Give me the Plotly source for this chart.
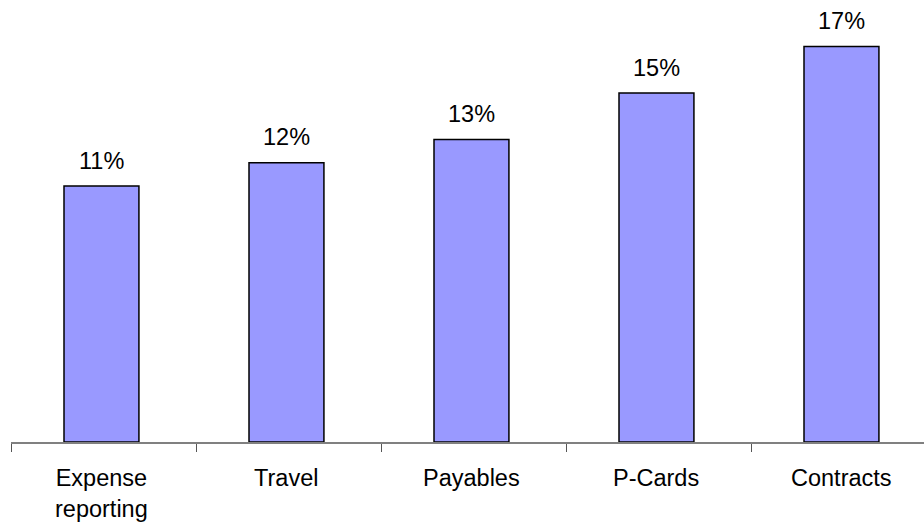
import plotly.graph_objects as go

categories = ["Expense<br>reporting", "Travel", "Payables", "P-Cards", "Contracts"]
values = [11, 12, 13, 15, 17]
value_labels = ["11%", "12%", "13%", "15%", "17%"]

FONT = "Liberation Sans, Arial, sans-serif"
FONT_SIZE = 23.5
BAR_WIDTH = 0.405
positions = list(range(len(categories)))

fig = go.Figure(
    go.Bar(
        x=positions,
        y=values,
        width=BAR_WIDTH,
        offset=-BAR_WIDTH / 2 - 0.011,
        marker=dict(color="#9999FF", line=dict(color="#000000", width=1.5)),
        hoverinfo="skip",
    )
)

annotations = []
for i, (v, lab) in enumerate(zip(values, value_labels)):
    annotations.append(dict(
        x=i - 0.011, y=v, xref="x", yref="y", text=lab, showarrow=False,
        yanchor="bottom", yshift=10.5,
        font=dict(family=FONT, size=FONT_SIZE, color="#000000"),
    ))
for i, cat in enumerate(categories):
    annotations.append(dict(
        x=i - 0.011, y=0, xref="x", yref="paper", text=cat, showarrow=False,
        yanchor="top", yshift=-21,
        font=dict(family=FONT, size=FONT_SIZE, color="#000000"),
    ))

fig.update_layout(
    width=924, height=527,
    margin=dict(l=11, r=0, t=0, b=85),
    paper_bgcolor="white", plot_bgcolor="white",
    showlegend=False,
    annotations=annotations,
    xaxis=dict(
        range=[-0.5, -0.5 + 913 / 185],
        tickvals=[-0.5, 0.5, 1.5, 2.5, 3.5],
        ticks="outside", ticklen=8, tickwidth=1, tickcolor="#555555",
        showticklabels=False, showline=True, linecolor="#808080", linewidth=1.5,
        showgrid=False, zeroline=False, fixedrange=True,
    ),
    yaxis=dict(
        range=[0, 19], visible=False, showgrid=False, zeroline=False, fixedrange=True,
    ),
)

fig.write_html("out.html", config={"displayModeBar": False})
